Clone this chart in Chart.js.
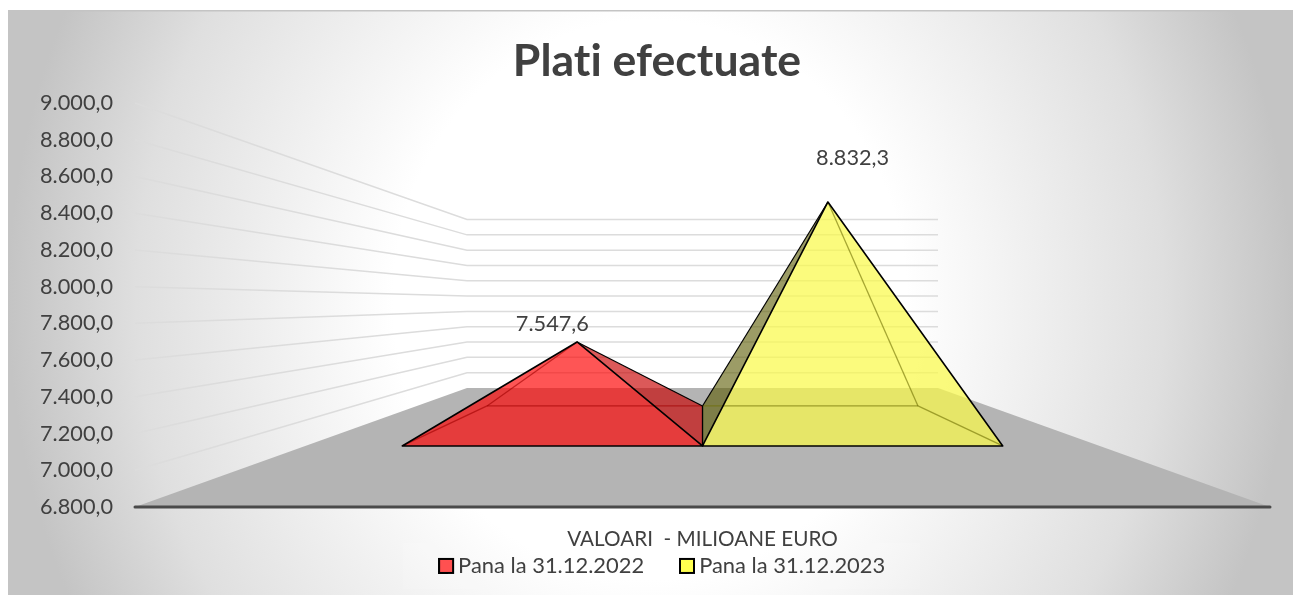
<!DOCTYPE html>
<html><head><meta charset="utf-8">
<style>html,body{margin:0;padding:0;background:#fff}canvas{display:block}</style>
<script src="https://cdn.jsdelivr.net/npm/chart.js@4"></script></head>
<body><canvas id="c" width="1293" height="595"></canvas>
<script>
const categories = ['VALOARI  - MILIOANE EURO'];
const seriesNames = ['Pana la 31.12.2022', 'Pana la 31.12.2023'];
const values2022 = [7547.6];
const values2023 = [8832.3];
const fmt = v => {
  const [a, b] = Math.abs(v).toFixed(1).split('.');
  return a.replace(/\B(?=(\d{3})+(?!\d))/g, '.') + ',' + b;
};
const BACK_INSET = 332, K_FRONT = 1.197, K_BACK = 0.859, D_FRONT = 0.513, D_BACK = 0.849;
const looks = [
  {front:'rgba(254,0,0,.667)', side:'rgba(200,0,0,.65)', edge:'rgba(160,0,0,.6)', sideDir:1},
  {front:'rgba(250,250,75,.72)', side:'rgba(90,90,0,.6)', edge:'rgba(110,110,0,.6)', sideDir:-1}
];
function poly(ctx, pts){ctx.beginPath();pts.forEach((p,i)=>i?ctx.lineTo(p[0],p[1]):ctx.moveTo(p[0],p[1]));ctx.closePath();}
function seg(ctx, a, b){ctx.beginPath();ctx.moveTo(a[0],a[1]);ctx.lineTo(b[0],b[1]);ctx.stroke();}
const pyramid3d = {
  id:'pyramid3d',
  afterLayout(chart){
    const lg = chart.legend, tb = chart.titleBlock;
    lg.left += 12; lg.right += 12;
    lg.top = 519; lg.bottom = 589;
    tb.left += 7; tb.right += 7;
  },
  beforeDraw(chart){
    const ctx = chart.ctx, W = chart.width, H = chart.height;
    ctx.letterSpacing = '0.01px';
    ctx.save();
    ctx.beginPath();ctx.rect(8,10,W-8,H-10);ctx.clip();
    ctx.translate(650,300);ctx.scale(1,700/642);
    const g = ctx.createRadialGradient(0,0,0,0,0,642);
    g.addColorStop(0,'#fff');g.addColorStop(.4,'#fff');g.addColorStop(.8,'#dfdfdf');g.addColorStop(1,'#c4c4c4');
    ctx.fillStyle = g;ctx.fillRect(-700,-400,1400,800);
    ctx.restore();
    ctx.fillStyle='#c4c4c4';ctx.fillRect(8,10,W-8,1.5);
    ctx.fillStyle='rgba(255,255,255,.12)';ctx.fillRect(403,543,517,46);
  },
  beforeDatasetsDraw(chart){
    const ctx = chart.ctx, a = chart.chartArea, y = chart.scales.y, yB = chart.scales.yBack;
    const L = a.left, R = a.right, fy = y.getPixelForValue(y.min), by = yB.getPixelForValue(y.min);
    ctx.save();
    ctx.strokeStyle='#dcdcdc';ctx.lineWidth=1.5;
    y.ticks.forEach(t=>{
      if(t.value===y.min) return;
      const p1=y.getPixelForValue(t.value), p2=yB.getPixelForValue(t.value);
      ctx.beginPath();ctx.moveTo(L,p1);ctx.lineTo(L+BACK_INSET,p2);ctx.lineTo(R-BACK_INSET,p2);ctx.stroke();
    });
    ctx.fillStyle='#b4b4b4';
    poly(ctx,[[L,fy],[L+BACK_INSET,by],[R-BACK_INSET,by],[R,fy]]);ctx.fill();
    ctx.strokeStyle='#4a4a4a';ctx.lineWidth=3;ctx.lineCap='round';
    seg(ctx,[L,fy],[R,fy]);
    ctx.restore();
  },
  beforeDatasetDraw(chart,args){
    const ctx = chart.ctx, a = chart.chartArea, y = chart.scales.y, yB = chart.scales.yBack;
    const el = args.meta.data[0], look = looks[args.index];
    const vp = (a.left+a.right)/2, fy = y.getPixelForValue(y.min), by = yB.getPixelForValue(y.min);
    const yF = fy-(fy-by)*D_FRONT, yK = fy-(fy-by)*D_BACK;
    const px = (s,k)=>vp+(el.x+s*el.width/2-vp)*k;
    const fl=[px(-1,K_FRONT),yF], fr=[px(1,K_FRONT),yF], bl=[px(-1,K_BACK),yK], br=[px(1,K_BACK),yK], top=[el.x,el.y];
    const sf = look.sideDir>0?fr:fl, sb = look.sideDir>0?br:bl;
    const ob = look.sideDir>0?bl:br, of = look.sideDir>0?fl:fr;
    ctx.save();ctx.lineJoin='round';
    ctx.fillStyle=look.side;poly(ctx,[top,sb,sf]);ctx.fill();
    ctx.fillStyle=look.front;poly(ctx,[top,fl,fr]);ctx.fill();
    ctx.strokeStyle=look.edge;ctx.lineWidth=1.3;
    seg(ctx,top,ob);seg(ctx,ob,of);seg(ctx,ob,sb);
    ctx.strokeStyle='#000';ctx.lineWidth=1.6;
    poly(ctx,[top,fl,fr]);ctx.stroke();
    ctx.lineWidth=1.2;
    seg(ctx,top,sb);seg(ctx,sb,sf);
    ctx.restore();
    return false;
  },
  afterDatasetsDraw(chart){
    const ctx = chart.ctx, a = chart.chartArea, yL = chart.scales.yLabel;
    const vp = (a.left+a.right)/2;
    ctx.save();ctx.fillStyle='#404040';ctx.font='21.7px Lato';ctx.textAlign='center';ctx.textBaseline='middle';
    chart.data.datasets.forEach((d,i)=>{
      const el = chart.getDatasetMeta(i).data[0];
      ctx.fillText(fmt(d.data[0]),vp+(el.x-vp)*K_FRONT,yL.getPixelForValue(d.data[0]));
    });
    ctx.restore();
  },
  afterDraw(chart){
    const ctx = chart.ctx, lg = chart.legend;
    ctx.save();ctx.lineWidth=2;ctx.strokeStyle='#000';
    lg.legendItems.forEach((it,i)=>{
      const h = lg.legendHitBoxes[i], cy = h.top+h.height/2;
      ctx.fillStyle = it.fillStyle;
      ctx.fillRect(h.left,cy-7,14,14);ctx.strokeRect(h.left,cy-7,14,14);
    });
    ctx.restore();
  }
};
const hiddenY = (min,max)=>({display:false,min,max,grid:{display:false}});
new Chart(document.getElementById('c'),{
  type:'bar',
  data:{labels:categories,datasets:[
    {label:seriesNames[0],data:values2022,yAxisID:'yPlane',backgroundColor:'rgb(255,80,80)',borderColor:'#000',borderWidth:2},
    {label:seriesNames[1],data:values2023,yAxisID:'yPlane',backgroundColor:'rgb(255,255,80)',borderColor:'#000',borderWidth:2}
  ]},
  options:{
    responsive:false,animation:false,
    devicePixelRatio:1,
    categoryPercentage:0.442,barPercentage:1,
    layout:{padding:{left:30,right:23,top:0,bottom:8}},
    plugins:{
      tooltip:{enabled:false},
      title:{display:true,text:'Plati efectuate',color:'#404040',
        font:{family:'Lato',size:44.6,weight:'bold',lineHeight:1},padding:{top:39,bottom:19.4}},
      legend:{position:'bottom',maxHeight:41,labels:{color:'#404040',font:{family:'Lato',size:21.9},boxWidth:8,boxHeight:14,padding:36}}
    },
    scales:{
      x:{grid:{display:false,drawTicks:false,tickLength:0},border:{display:false},afterFit(s){s.height=39;},
        ticks:{color:'#404040',font:{family:'Lato',size:20.7},padding:19.5,maxRotation:0}},
      y:{position:'left',min:6800,max:9000,afterFit(s){s.width=105;},grid:{display:false,drawTicks:false},border:{display:false},
        ticks:{stepSize:200,color:'#404040',font:{family:'Lato',size:21.7},padding:22,callback:v=>fmt(v)}},
      yPlane:hiddenY(6033.4,9740.6),
      yBack:hiddenY(5245.5,10522.5),
      yLabel:hiddenY(6131,9258)
    }
  },
  plugins:[pyramid3d]
});
</script></body></html>
